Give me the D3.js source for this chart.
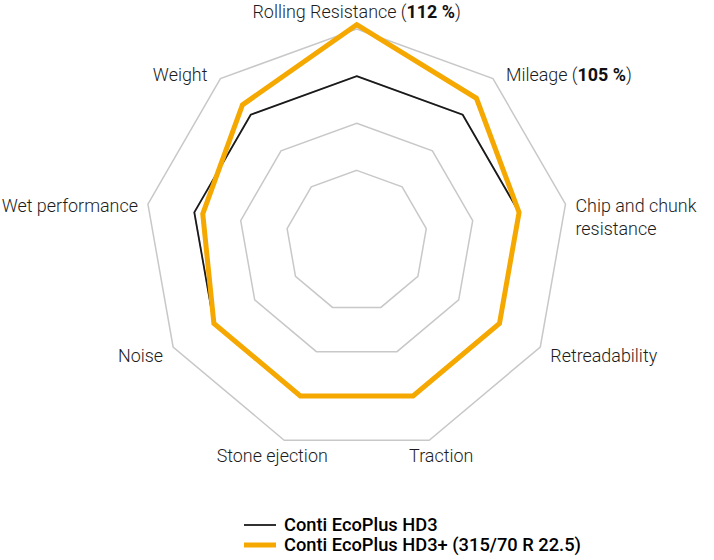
<!DOCTYPE html>
<html>
<head>
<meta charset="utf-8">
<script src="https://cdn.jsdelivr.net/npm/d3@7"></script>
<style>
  body { margin: 0; background: #fff; }
  text { font-family: Roboto, "Open Sans", sans-serif; }
</style>
</head>
<body>
<svg id="chart" width="714" height="560"></svg>
<script>
// axis names, clockwise from the top
var axes = ['Rolling Resistance', 'Mileage', 'Chip and chunk|resistance', 'Retreadability',
	'Traction', 'Stone ejection', 'Noise', 'Wet performance', 'Weight'];
// bold part after the name, if any
var axisNotes = ['112 %', '105 %', '', '', '', '', '', '', ''];

var seriesNames = ['Conti EcoPlus HD3', 'Conti EcoPlus HD3+ (315/70 R 22.5)'];
var hd3 = [100, 100, 100, 100, 100, 100, 100, 100, 100];
var hd3plus = [112, 105, 100, 100, 100, 100, 100, 98, 103];

// grey rings
var ringLevels = [78, 89, 100, 111];

var width = 714, height = 560;
var cx = 356.7, cy = 241, outerR = 212;

var svg = d3.select('#chart');

var rScale = d3.scaleLinear().domain([61.5, 111]).range([0, outerR]);
var angle = function(i){ return i * 2 * Math.PI / axes.length; };

var pointAt = function(i, r){
	return [cx + r * Math.sin(angle(i)), cy - r * Math.cos(angle(i))];
};

var polygon = function(vals){
	return vals.map(function(v, i){ return pointAt(i, rScale(v)); });
};

var line = d3.line().curve(d3.curveLinearClosed);

// rings
svg.append('g')
	.attr('class', 'rings')
	.selectAll('path')
	.data(ringLevels)
	.enter()
	.append('path')
	.attr('d', function(d){ return line(axes.map(function(a, i){ return pointAt(i, rScale(d)); })); })
	.attr('fill', 'none')
	.attr('stroke', '#c8c8c8')
	.attr('stroke-width', 1.5);

// series, black first so orange sits on top
var series = [
	{ vals: hd3, color: '#1a1a1a', w: 1.8 },
	{ vals: hd3plus, color: '#f5a800', w: 5 }
];

svg.append('g')
	.selectAll('path')
	.data(series)
	.enter()
	.append('path')
	.attr('d', function(d){ return line(polygon(d.vals)); })
	.attr('fill', 'none')
	.attr('stroke', function(d){ return d.color; })
	.attr('stroke-width', function(d){ return d.w; })
	.attr('stroke-linejoin', 'miter');

// axis labels
var labelG = svg.append('g')
	.attr('font-size', '17.9px')
	.attr('font-weight', 300)
	.attr('fill', '#1c1c1c');

axes.forEach(function(name, i){
	var v = pointAt(i, outerR);
	var s = Math.sin(angle(i)), c = Math.cos(angle(i));
	var x, y, anchor;
	if (Math.abs(s) < 0.1){
		// top
		x = v[0]; y = v[1] - 11; anchor = 'middle';
	}
	else if (c < -0.9){
		// bottom pair
		x = v[0] + (s > 0 ? 12 : -12); y = v[1] + 22; anchor = 'middle';
	}
	else {
		x = v[0] + (s > 0 ? 1 : -1) * (Math.abs(c) > 0.6 ? 13 : 10);
		y = v[1] + 10 - 10 * c;
		anchor = s > 0 ? 'start' : 'end';
	}
	var t = labelG.append('text')
		.attr('x', x)
		.attr('y', y)
		.attr('text-anchor', anchor);
	var lines = name.split('|');
	lines.forEach(function(l, k){
		var ts = t.append('tspan').text(l);
		if (k > 0){ ts.attr('x', x).attr('dy', 23); }
	});
	if (axisNotes[i] != ''){
		t.append('tspan').text(' (');
		t.append('tspan').attr('font-weight', 'bold').attr('fill', '#111').text(axisNotes[i]);
		t.append('tspan').text(')');
	}
});

// legend
var legend = svg.append('g')
	.attr('transform', 'translate(244, 525)');

legend.selectAll('g')
	.data(series)
	.enter()
	.append('g')
	.attr('transform', function(d, i){ return 'translate(0,' + (i * 20) + ')'; })
	.each(function(d, i){
		var g = d3.select(this);
		g.append('line')
			.attr('x1', 0).attr('x2', 32)
			.attr('y1', 0).attr('y2', 0)
			.attr('stroke', d.color)
			.attr('stroke-width', d.w);
		g.append('text')
			.attr('x', 40)
			.attr('y', 5.5)
			.attr('font-size', '18.3px')
			.attr('font-weight', 500)
			.attr('fill', '#000')
			.text(seriesNames[i]);
	});
</script>
</body>
</html>
